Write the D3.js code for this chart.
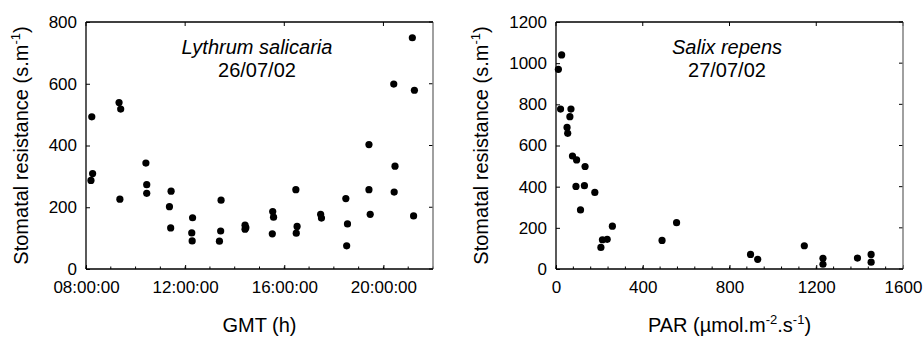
<!DOCTYPE html>
<html>
<head>
<meta charset="utf-8">
<script src="https://cdn.jsdelivr.net/npm/d3@7"></script>
<style>
  html, body { margin: 0; padding: 0; background: #fff; }
  svg { display: block; font-family: "Liberation Sans", Arial, sans-serif; }
</style>
</head>
<body>
<svg id="chart" width="923" height="339"></svg>
<script>
// ---- Data: Lythrum salicaria, 26/07/02 ----
const lythrumTime = ["08:12","08:14","08:16","09:20","09:24","09:22","10:25","10:27","10:27",
  "11:26","11:22","11:25","12:18","12:16","12:17","13:27","13:26","13:23","14:25","14:27","14:25",
  "15:32","15:34","15:31","16:28","16:31","16:29","17:28","17:30","18:29","18:33","18:31",
  "19:25","19:25","19:28","20:25","20:28","20:26","21:10","21:15","21:13"];
const lythrumRes = [287,493,309,539,518,226,343,273,245,
  252,202,133,166,117,91,223,123,90,142,134,129,
  186,168,114,257,138,116,177,165,228,146,75,
  403,257,177,599,333,249,749,579,172];

// ---- Data: Salix repens, 27/07/02 ----
const salixPAR = [26,11,21,69,64,51,54,76,95,134,92,131,179,113,260,214,236,207,489,556,897,930,1145,1231,1231,1390,1453,1453];
const salixRes = [1040,970,777,777,740,688,659,549,530,498,401,405,372,287,208,142,144,105,139,225,71,47,113,52,23,53,71,33];

// ---- Axis settings ----
const leftYTicks = [0,200,400,600,800];
const rightYTicks = [0,200,400,600,800,1000,1200];
const rightXTicks = [0,400,800,1200,1600];
const rightXMinor = d3.range(0,1601,80);

const svg = d3.select("#chart");
const parseT = d3.timeParse("%H:%M");
const fmtT = d3.timeFormat("%H:%M:%S");

const plotTop = 22, plotBottom = 269;
const panels = [
  {x0: 86, x1: 433},
  {x0: 556, x1: 903}
];

function frame(g, p, xScale, yScale, xMajor, xMinor, yTicks, xFmt) {
  // bottom axis
  const xb = d3.axisBottom(xScale).tickValues(xMajor).tickSize(-4).tickPadding(12).tickFormat(xFmt);
  const gb = g.append("g").attr("transform", `translate(0,${plotBottom})`).call(xb);
  gb.select(".domain").remove();
  gb.selectAll("text").attr("font-size", 17).attr("fill", "#000").attr("font-family", "Liberation Sans, Arial, sans-serif");
  gb.selectAll("line").attr("stroke", "#000");
  // minor bottom ticks
  g.append("g").selectAll("line").data(xMinor).join("line")
    .attr("x1", d => xScale(d)).attr("x2", d => xScale(d))
    .attr("y1", plotBottom).attr("y2", plotBottom - 2.5).attr("stroke", "#000");
  // top ticks
  g.append("g").selectAll("line").data(xMajor).join("line")
    .attr("x1", d => xScale(d)).attr("x2", d => xScale(d))
    .attr("y1", plotTop).attr("y2", plotTop + 4).attr("stroke", "#000");
  // left axis
  const yl = d3.axisLeft(yScale).tickValues(yTicks).tickSize(-4).tickPadding(9).tickFormat(d3.format("d"));
  const gl = g.append("g").attr("transform", `translate(${p.x0},0)`).call(yl);
  gl.select(".domain").remove();
  gl.selectAll("text").attr("font-size", 17).attr("fill", "#000").attr("font-family", "Liberation Sans, Arial, sans-serif");
  gl.selectAll("line").attr("stroke", "#000");
  // right ticks
  g.append("g").selectAll("line").data(yTicks).join("line")
    .attr("x1", p.x1).attr("x2", p.x1 - 4)
    .attr("y1", d => yScale(d)).attr("y2", d => yScale(d)).attr("stroke", "#000");
  // frame lines
  g.append("line").attr("x1", p.x1).attr("x2", p.x1).attr("y1", plotTop).attr("y2", plotBottom)
    .attr("stroke", "#808080").attr("stroke-width", 1.5);
  g.append("line").attr("x1", p.x0).attr("x2", p.x1).attr("y1", plotTop).attr("y2", plotTop)
    .attr("stroke", "#000").attr("stroke-width", 1.3);
  g.append("line").attr("x1", p.x0).attr("x2", p.x1).attr("y1", plotBottom).attr("y2", plotBottom)
    .attr("stroke", "#000").attr("stroke-width", 1.3);
  g.append("line").attr("x1", p.x0).attr("x2", p.x0).attr("y1", plotTop).attr("y2", plotBottom)
    .attr("stroke", "#000").attr("stroke-width", 1.3);
}

function yLabel(g, x) {
  const t = g.append("text")
    .attr("transform", `translate(${x},${(plotTop + plotBottom) / 2}) rotate(-90)`)
    .attr("text-anchor", "middle").attr("font-size", 20).attr("fill", "#000");
  t.append("tspan").text("Stomatal resistance (s.m");
  t.append("tspan").attr("dy", -8).attr("font-size", 13).text("-1");
  t.append("tspan").attr("dy", 8).text(")");
}

// ---- Left panel ----
{
  const p = panels[0];
  const g = svg.append("g");
  const x = d3.scaleTime().domain([parseT("08:00"), parseT("22:00")]).range([p.x0, p.x1]);
  const y = d3.scaleLinear().domain([0, 800]).range([plotBottom, plotTop]);
  frame(g, p, x, y, x.ticks(d3.timeHour.every(4)).filter(d => d < parseT("22:00")),
        x.ticks(d3.timeHour.every(1)), leftYTicks, fmtT);
  g.append("g").selectAll("circle").data(lythrumTime.map((t, i) => [parseT(t), lythrumRes[i]]))
    .join("circle").attr("cx", d => x(d[0])).attr("cy", d => y(d[1])).attr("r", 3.6).attr("fill", "#000");
  yLabel(g, 28);
  g.append("text").attr("x", (p.x0 + p.x1) / 2).attr("y", 332).attr("text-anchor", "middle")
    .attr("font-size", 20).text("GMT (h)");
  g.append("text").attr("x", 257).attr("y", 54).attr("text-anchor", "middle")
    .attr("font-size", 20).attr("font-style", "italic").text("Lythrum salicaria");
  g.append("text").attr("x", 257).attr("y", 77).attr("text-anchor", "middle")
    .attr("font-size", 20).text("26/07/02");
}

// ---- Right panel ----
{
  const p = panels[1];
  const g = svg.append("g");
  const x = d3.scaleLinear().domain([0, 1600]).range([p.x0, p.x1]);
  const y = d3.scaleLinear().domain([0, 1200]).range([plotBottom, plotTop]);
  frame(g, p, x, y, rightXTicks, rightXMinor, rightYTicks, d3.format("d"));
  g.append("g").selectAll("circle").data(salixPAR.map((v, i) => [v, salixRes[i]]))
    .join("circle").attr("cx", d => x(d[0])).attr("cy", d => y(d[1])).attr("r", 3.6).attr("fill", "#000");
  yLabel(g, 488);
  const t = g.append("text").attr("x", (p.x0 + p.x1) / 2).attr("y", 332).attr("text-anchor", "middle")
    .attr("font-size", 20);
  t.append("tspan").text("PAR (µmol.m");
  t.append("tspan").attr("dy", -8).attr("font-size", 13).text("-2");
  t.append("tspan").attr("dy", 8).text(".s");
  t.append("tspan").attr("dy", -8).attr("font-size", 13).text("-1");
  t.append("tspan").attr("dy", 8).text(")");
  g.append("text").attr("x", 727).attr("y", 54).attr("text-anchor", "middle")
    .attr("font-size", 20).attr("font-style", "italic").text("Salix repens");
  g.append("text").attr("x", 727).attr("y", 77).attr("text-anchor", "middle")
    .attr("font-size", 20).text("27/07/02");
}
</script>
</body>
</html>
